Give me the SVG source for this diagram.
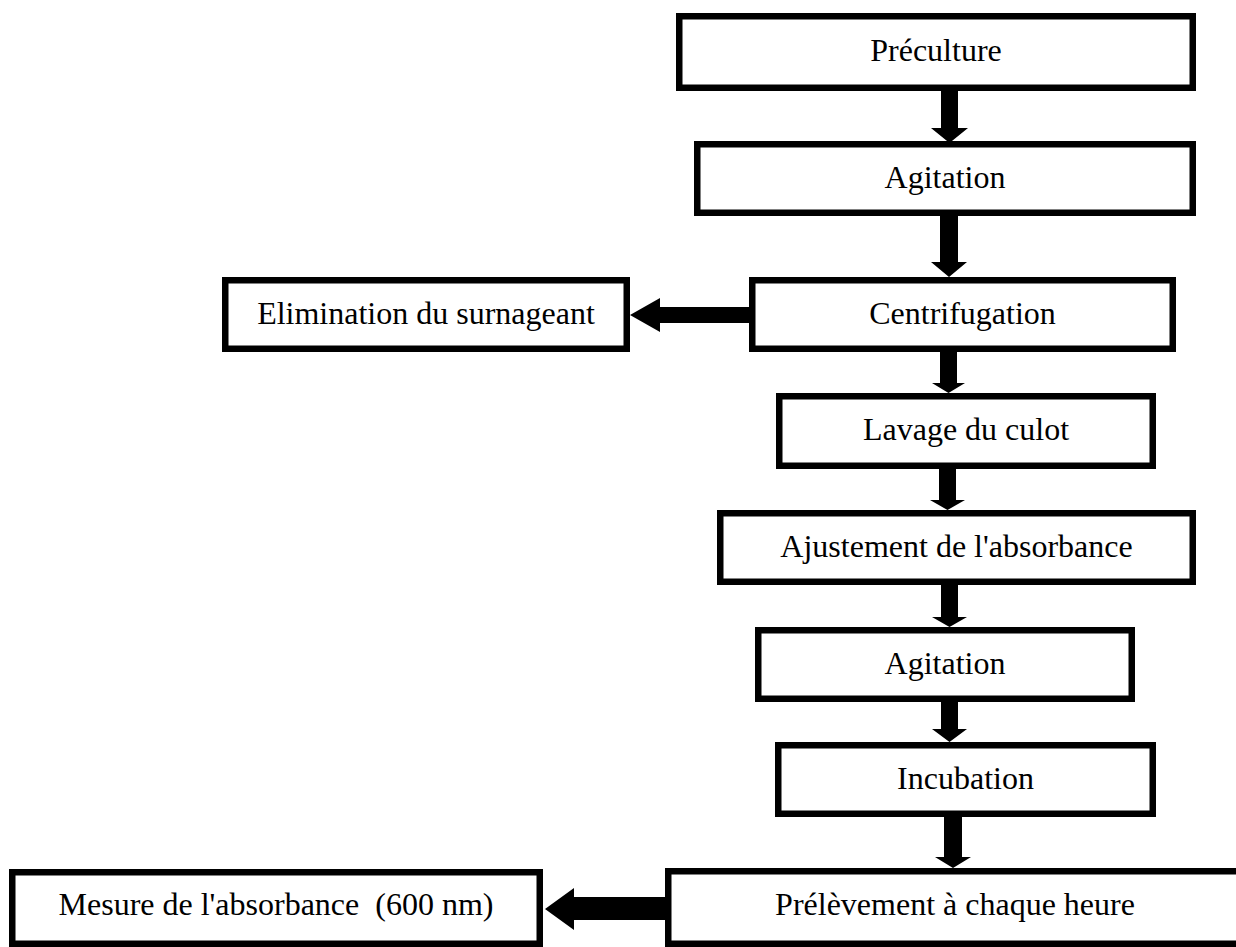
<svg xmlns="http://www.w3.org/2000/svg" width="1236" height="947" viewBox="0 0 1236 947">
<style>
.box{fill:#fff;stroke:#000;stroke-width:6.5}
.lbl{font-family:"Liberation Serif","Times New Roman",serif;font-size:32px;fill:#000;text-anchor:middle;white-space:pre}
.arr{fill:#000;stroke:none}
</style>
<rect width="1236" height="947" fill="#fff"/>
<g id="preculture"><rect class="box" x="679.25" y="16.25" width="513.5" height="71.5"/><text class="lbl" x="936" y="61">Préculture</text></g>
<g id="agitation1"><rect class="box" x="697.25" y="144.25" width="495.5" height="68.5"/><text class="lbl" x="945" y="188">Agitation</text></g>
<g id="centrifugation"><rect class="box" x="752.25" y="280.25" width="420.5" height="68.5"/><text class="lbl" x="962.5" y="324">Centrifugation</text></g>
<g id="elimination"><rect class="box" x="225.25" y="280.25" width="401.5" height="68.5"/><text class="lbl" x="426" y="324">Elimination du surnageant</text></g>
<g id="lavage"><rect class="box" x="779.25" y="396.25" width="373.5" height="69.5"/><text class="lbl" x="966" y="440">Lavage du culot</text></g>
<g id="ajustement"><rect class="box" x="720.25" y="513.25" width="472.5" height="68.5"/><text class="lbl" x="956.5" y="557">Ajustement de l'absorbance</text></g>
<g id="agitation2"><rect class="box" x="758.25" y="630.25" width="373.5" height="68.5"/><text class="lbl" x="945" y="674">Agitation</text></g>
<g id="incubation"><rect class="box" x="778.25" y="745.25" width="374.5" height="68.5"/><text class="lbl" x="965.5" y="789">Incubation</text></g>
<g id="prelevement"><rect class="box" x="668.25" y="871.25" width="600" height="72.5"/><text class="lbl" x="955" y="915">Prélèvement à chaque heure</text></g>
<g id="mesure"><rect class="box" x="12.25" y="872.25" width="527.5" height="71.5"/><text class="lbl" x="276" y="915">Mesure de l'absorbance  (600 nm)</text></g>
<g id="connectors">
<path class="arr" d="M941,91 H958 V128 H968 L949.5,143 L931,128 H941 Z"/>
<path class="arr" d="M940,216 H958 V262 H967 L949,277 L931,262 H940 Z"/>
<path class="arr" d="M940,352 H957 V383 H965 L948.5,393 L932,383 H940 Z"/>
<path class="arr" d="M939,469 H956 V500 H965 L947.5,510 L930,500 H939 Z"/>
<path class="arr" d="M941,585 H958 V617 H967 L949.5,627 L932,617 H941 Z"/>
<path class="arr" d="M941,702 H958 V729 H967 L949.5,742 L932,729 H941 Z"/>
<path class="arr" d="M944,817 H962 V857 H971 L953,868 L935,857 H944 Z"/>
<path class="arr" d="M749,307 V323 H660 V332 L630,315 L660,298 V307 Z"/>
<path class="arr" d="M665,897 V920 H574 V930 L545,909 L574,888 V897 Z"/>
</g>
</svg>
